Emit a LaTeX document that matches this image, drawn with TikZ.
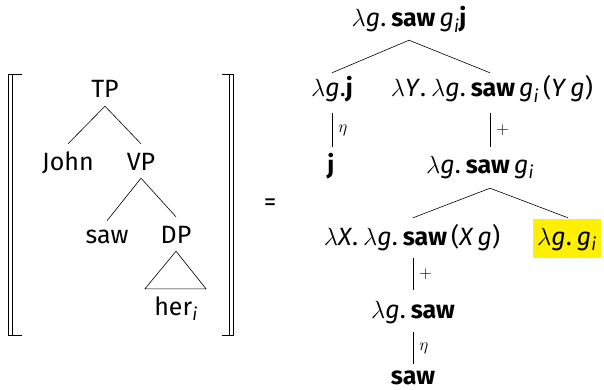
\documentclass[tikz,border=0pt]{standalone}
\usepackage{fontspec}
\setmainfont{Fira Sans}
\definecolor{hilite}{RGB}{255,240,0}
\newcommand{\vr}[1]{\textit{#1}}
\newcommand{\cn}[1]{\textbf{#1}}
\newcommand{\sbi}{\textsubscript{\textit{i}}}
\newcommand{\dt}{.\hspace{0.2em}}
\begin{document}
\begin{tikzpicture}[x=1pt,y=-1pt,
  every node/.style={font=\fontsize{25}{30}\selectfont},
  tn/.style={anchor=base, inner xsep=0pt, inner ysep=3pt,
    text height=23pt, text depth=5pt},
  br/.style={line width=0.8pt},
  lbl/.style={right, font=\fontsize{17}{20}\selectfont, inner xsep=6pt},
  edge/.style={line width=0.6pt}]
\useasboundingbox (0,0) rectangle (604,390);

% semantic brackets
\draw[br] (22,74.5) -- (8.5,74.5) -- (8.5,335.5) -- (22,335.5);
\draw[br] (12.5,74.5) -- (12.5,335.5);
\draw[br] (222,74.5) -- (233.5,74.5) -- (233.5,335.5) -- (222,335.5);
\draw[br] (229.5,74.5) -- (229.5,335.5);

% syntactic tree
\node[tn] (TP) at (105,98) {TP};
\node[tn] (John) at (68,170) {John};
\node[tn] (VP) at (141,170) {VP};
\node[tn] (sawL) at (107,243) {saw};
\node[tn] (DP) at (176,243) {DP};
\node[tn] (her) at (176,315) {her\sbi};
\draw[edge] (TP.south) -- (John.north);
\draw[edge] (TP.south) -- (VP.north);
\draw[edge] (VP.south) -- ([yshift=-4pt]sawL.north);
\draw[edge] (VP.south) -- (DP.north);
\draw[edge] (DP.south) -- ([xshift=-31pt]her.north) -- ([xshift=30pt]her.north) -- cycle;

\node (eq) at (270,205) {=};

% semantic derivation
\node[tn] (top) at (409,27) {$\lambda$\vr{g}\dt\cn{saw}\,\vr{g}\sbi\cn{j}};
\node[tn] (lgj) at (332,97) {$\lambda$\vr{g}.\cn{j}};
\node[tn] (lY) at (492,97) {$\lambda$\vr{Y}\dt$\lambda$\vr{g}\dt\cn{saw}\,\vr{g}\sbi\,(\vr{Y}\,\vr{g})};
\node[tn] (j) at (331,173) {\cn{j}};
\node[tn] (sgi) at (480,173) {$\lambda$\vr{g}\dt\cn{saw}\,\vr{g}\sbi};
\node[tn] (lX) at (412,245) {$\lambda$\vr{X}\dt$\lambda$\vr{g}\dt\cn{saw}\,(\vr{X}\,\vr{g})};
\node[anchor=base, fill=hilite, inner xsep=4pt, inner ysep=3pt,
  text height=23pt, text depth=10pt] (pro) at (567,245) {$\lambda$\vr{g}\dt\vr{g}\sbi};
\node[tn] (lgs) at (413,318) {$\lambda$\vr{g}\dt\cn{saw}};
\node[tn, inner ysep=0pt, text height=26pt, text depth=0pt] (saw) at (413,384) {\cn{saw}};

\draw[edge] ([yshift=-5pt]top.south) -- ([yshift=-2pt]lgj.north);
\draw[edge] ([yshift=-5pt]top.south) -- ([xshift=-2pt,yshift=-2pt]lY.north);
\draw[edge] ([yshift=-8pt]lgj.south) -- (lgj.south |- j.north)
  node[lbl, midway] {$\eta$};
\draw[edge] ([xshift=-2pt,yshift=-8pt]lY.south) -- ([xshift=-2pt]lY.south |- sgi.north)
  node[lbl, midway] {$+$};
\draw[edge] ([xshift=10pt,yshift=-7pt]sgi.south) -- ([xshift=1pt,yshift=1pt]lX.north);
\draw[edge] ([xshift=10pt,yshift=-7pt]sgi.south) -- ([xshift=1pt,yshift=1pt]pro.north);
\draw[edge] ([xshift=1pt,yshift=-5pt]lX.south) -- ([xshift=1pt,yshift=2pt]lX.south |- lgs.north)
  node[lbl, midway] {$+$};
\draw[edge] ([yshift=-6pt]lgs.south) -- ([yshift=-6pt]lgs.south |- saw.north)
  node[lbl, midway] {$\eta$};
\end{tikzpicture}
\end{document}
